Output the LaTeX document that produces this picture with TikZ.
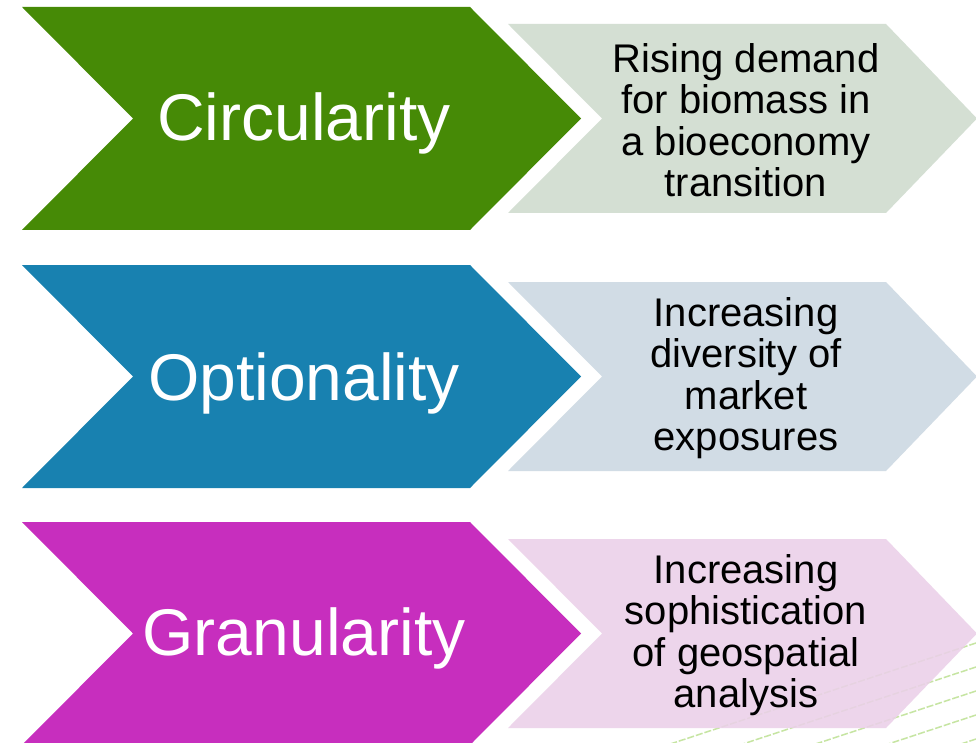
\documentclass[tikz,border=0pt]{standalone}
\usepackage{fontspec}
\setmainfont{Liberation Sans}
\definecolor{cgreen}{HTML}{468A06}
\definecolor{cblue}{HTML}{1881B0}
\definecolor{cmagenta}{HTML}{C72EBE}
\definecolor{lgreen}{HTML}{D4DFD3}
\definecolor{lblue}{HTML}{D1DCE5}
\definecolor{lpink}{HTML}{EBD0E9}
\definecolor{stripe}{HTML}{C6E5A2}
\begin{document}
\begin{tikzpicture}[x=1pt,y=-1pt,
  bigtext/.style={text=white,font=\fontsize{66}{66}\selectfont,inner sep=0pt,anchor=base},
  smalltext/.style={text=black,font=\fontsize{40}{41.5}\selectfont,align=center,inner sep=0pt},
  stripeline/.style={stripe,line width=1.5pt,dash pattern=on 7pt off 2pt}]
\useasboundingbox[fill=white] (0,0) rectangle (976,743);

% faint background stripes, lower right corner
\begin{scope}
\clip (0,0) rectangle (976,743);
\foreach \k in {0,...,5}{
  \draw[stripeline] (976,{643+24*\k}) -- ({976-330},{643+24*\k+109});
}
\end{scope}

% big chevrons (left) and light chevrons (right)
\foreach \t/\dark/\light/\op in {7/cgreen/lgreen/1, 265/cblue/lblue/1, 522/cmagenta/lpink/0.88}{
  \fill[\light,fill opacity=\op] (508,\t+17) -- (886,\t+17) -- (977,\t+111.5)
     -- (886,\t+206) -- (508,\t+206) -- (602,\t+111.5) -- cycle;
  \fill[\dark] (22,\t) -- (470,\t) -- (581,\t+111.5) -- (470,\t+223)
     -- (22,\t+223) -- (133,\t+111.5) -- cycle;
}

\node[bigtext] (circ) at (304,141) {Circularity};
\node[bigtext] (opt)  at (304,400) {Optionality};
\node[bigtext] (gran) at (304,655) {Granularity};

\node[smalltext] (rising) at (746,120) {Rising demand\\for biomass in\\a bioeconomy\\transition};
\node[smalltext] (diver)  at (746,378) {Increasing\\diversity of\\market\\exposures};
\node[smalltext] (soph)   at (746,635) {Increasing\\sophistication\\of geospatial\\analysis};
\end{tikzpicture}
\end{document}
